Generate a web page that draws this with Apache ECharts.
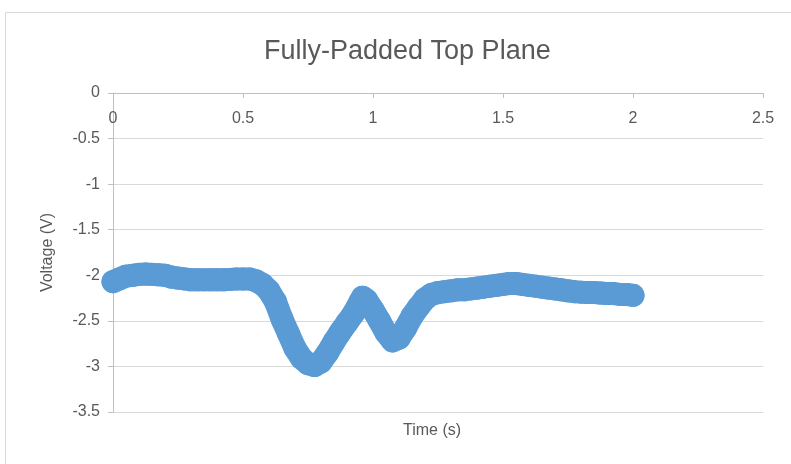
<!DOCTYPE html>
<html>
<head>
<meta charset="utf-8">
<title>Fully-Padded Top Plane</title>
<script src="https://cdn.jsdelivr.net/npm/echarts@6/dist/echarts.min.js"></script>
<style>
  html, body { margin: 0; padding: 0; background: #ffffff; }
  #chart { width: 791px; height: 464px; }
</style>
</head>
<body>
<div id="chart"></div>
<script>
// Time samples (s)
const timeS = [
  0.00, 0.025, 0.05, 0.075, 0.10, 0.125, 0.15, 0.175, 0.20, 0.225,
  0.25, 0.275, 0.30, 0.325, 0.35, 0.375, 0.40, 0.425, 0.45, 0.475,
  0.50, 0.525, 0.55, 0.575, 0.60, 0.625, 0.65, 0.675, 0.70, 0.725,
  0.75, 0.775, 0.80, 0.825, 0.85, 0.875, 0.90, 0.925, 0.95, 0.96,
  0.975, 1.00, 1.025, 1.05, 1.075, 1.10, 1.125, 1.15, 1.175, 1.20,
  1.225, 1.25, 1.275, 1.30, 1.325, 1.35, 1.375, 1.40, 1.425, 1.45,
  1.475, 1.50, 1.525, 1.55, 1.575, 1.60, 1.625, 1.65, 1.675, 1.70,
  1.725, 1.75, 1.775, 1.80, 1.825, 1.85, 1.875, 1.90, 1.925, 1.95,
  1.975, 2.00
];

// Measured voltage (V)
const voltageV = [
  -2.07, -2.04, -2.01, -2.00, -1.99, -1.985, -1.99, -1.995, -2.00, -2.02,
  -2.03, -2.04, -2.05, -2.05, -2.05, -2.05, -2.05, -2.05, -2.045, -2.04,
  -2.04, -2.04, -2.06, -2.10, -2.17, -2.29, -2.48, -2.64, -2.80, -2.91,
  -2.97, -2.99, -2.95, -2.85, -2.73, -2.62, -2.52, -2.42, -2.29, -2.24,
  -2.27, -2.38, -2.50, -2.63, -2.72, -2.69, -2.58, -2.45, -2.35, -2.26,
  -2.21, -2.19, -2.18, -2.17, -2.16, -2.16, -2.15, -2.14, -2.13, -2.12,
  -2.11, -2.10, -2.09, -2.09, -2.10, -2.11, -2.12, -2.13, -2.14, -2.15,
  -2.16, -2.17, -2.18, -2.185, -2.19, -2.19, -2.195, -2.20, -2.20, -2.21,
  -2.21, -2.22
];

// Axis tick values
const xTicks = [0, 0.5, 1, 1.5, 2, 2.5];
const yTicks = [0, -0.5, -1, -1.5, -2, -2.5, -3, -3.5];

const points = timeS.map((t, i) => [t, voltageV[i]]);

const textColor = '#595959';
const fontFamily = '"Liberation Sans", Arial, sans-serif';

const chart = echarts.init(document.getElementById('chart'), null, { renderer: 'canvas' });

chart.setOption({
  animation: false,
  backgroundColor: '#ffffff',
  title: {
    text: 'Fully-Padded Top Plane',
    left: 259,
    top: 33,
    textStyle: { color: textColor, fontSize: 27, fontWeight: 'normal', fontFamily: fontFamily }
  },
  graphic: [
    {
      type: 'rect',
      shape: { x: 5.5, y: 12.5, width: 800, height: 470 },
      style: { fill: 'none', stroke: '#d9d9d9', lineWidth: 1 },
      silent: true
    },
    {
      type: 'text',
      left: 403,
      top: 423,
      style: { text: 'Time (s)', fill: textColor, font: '16px ' + fontFamily }
    }
  ],
  grid: { left: 113, right: 28, top: 93, bottom: 52 },
  xAxis: {
    type: 'value',
    position: 'top',
    min: xTicks[0],
    max: xTicks[xTicks.length - 1],
    interval: 0.5,
    axisLine: { show: true, lineStyle: { color: '#bfbfbf', width: 1 } },
    axisTick: { show: true, inside: true, length: 5, lineStyle: { color: '#bfbfbf' } },
    axisLabel: {
      inside: true,
      margin: 18,
      color: textColor,
      fontSize: 16,
      fontFamily: fontFamily
    },
    splitLine: { show: false }
  },
  yAxis: {
    type: 'value',
    min: yTicks[yTicks.length - 1],
    max: yTicks[0],
    interval: 0.5,
    name: 'Voltage (V)',
    nameLocation: 'middle',
    nameGap: 57,
    nameTextStyle: { color: textColor, fontSize: 16, fontFamily: fontFamily },
    axisLine: { show: true, onZero: false, lineStyle: { color: '#bfbfbf', width: 1 } },
    axisTick: { show: true, length: 5, lineStyle: { color: '#bfbfbf' } },
    axisLabel: { margin: 13, color: textColor, fontSize: 16, fontFamily: fontFamily },
    splitLine: { show: true, lineStyle: { color: '#d9d9d9', width: 1 } }
  },
  series: [
    {
      type: 'line',
      data: points,
      showAllSymbol: true,
      symbol: 'circle',
      symbolSize: 23,
      itemStyle: { color: '#5b9bd5' },
      lineStyle: { color: '#5b9bd5', width: 23, cap: 'round', join: 'round' },
      clip: false,
      z: 3
    }
  ]
});
</script>
</body>
</html>
